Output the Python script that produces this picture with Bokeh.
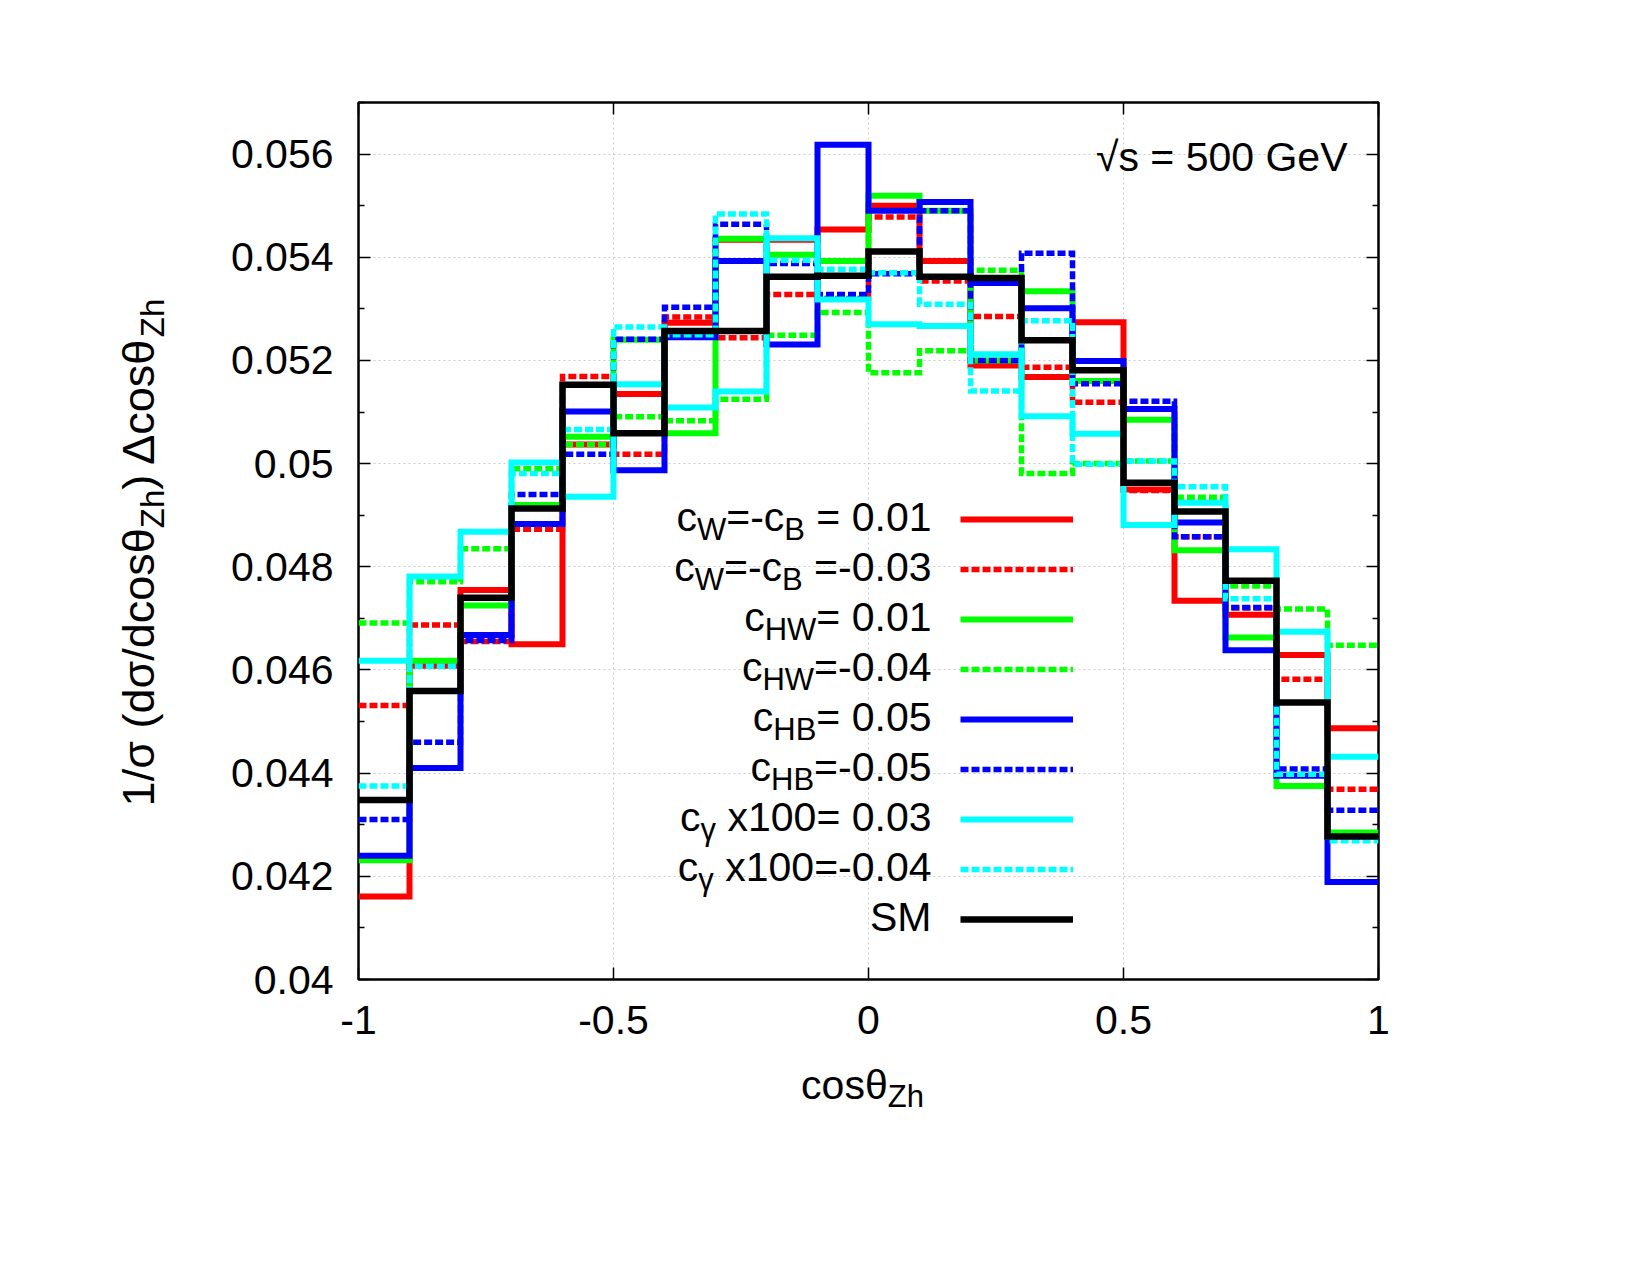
import math
from bokeh.plotting import figure
from bokeh.layouts import row, column
from bokeh.models import (Range1d, FixedTicker, LinearAxis, Label, Legend, LegendItem,
                          CustomJSTickFormatter)
from bokeh.core.properties import value
from bokeh.embed import file_html
from bokeh.resources import INLINE

# ---------------- data ----------------
bin_edges = [-1.0, -0.9, -0.8, -0.7, -0.6, -0.5, -0.4, -0.3, -0.2, -0.1, 0.0,
             0.1, 0.2, 0.3, 0.4, 0.5, 0.6, 0.7, 0.8, 0.9, 1.0]

cw_p001 = [0.04161, 0.04608, 0.04755, 0.04650, 0.05037, 0.05135, 0.05273, 0.05434, 0.05434, 0.05454,
           0.05500, 0.05393, 0.05190, 0.05168, 0.05274, 0.04950, 0.04734, 0.04707, 0.04629, 0.04487]
cw_m003 = [0.04531, 0.04687, 0.04655, 0.04873, 0.05169, 0.05018, 0.05284, 0.05244, 0.05328, 0.05320,
           0.05478, 0.05354, 0.05285, 0.05187, 0.05119, 0.04948, 0.04858, 0.04720, 0.04582, 0.04369]
chw_p001 = [0.04231, 0.04618, 0.04725, 0.04920, 0.05052, 0.05240, 0.05059, 0.05436, 0.05405, 0.05393,
            0.05519, 0.05490, 0.05200, 0.05334, 0.05160, 0.05085, 0.04832, 0.04663, 0.04375, 0.04285]
chw_m004 = [0.04691, 0.04771, 0.04835, 0.04990, 0.05037, 0.05091, 0.05083, 0.05125, 0.05249, 0.05293,
            0.05176, 0.05219, 0.05375, 0.04981, 0.05000, 0.05005, 0.04935, 0.04763, 0.04718, 0.04648]
chb_p005 = [0.04240, 0.04410, 0.04668, 0.04883, 0.05101, 0.04987, 0.05245, 0.05393, 0.05231, 0.05618,
            0.05490, 0.05507, 0.05350, 0.05301, 0.05199, 0.05106, 0.04886, 0.04638, 0.04395, 0.04189]
chb_m005 = [0.04310, 0.04460, 0.04657, 0.04940, 0.05018, 0.05241, 0.05303, 0.05464, 0.05388, 0.05328,
            0.05368, 0.05490, 0.05200, 0.05408, 0.05155, 0.05121, 0.04858, 0.04721, 0.04408, 0.04328]
cg_p003 = [0.04618, 0.04781, 0.04868, 0.05002, 0.04936, 0.05154, 0.05109, 0.05140, 0.05437, 0.05318,
           0.05270, 0.05267, 0.05212, 0.05092, 0.05058, 0.04881, 0.04924, 0.04834, 0.04674, 0.04432]
cg_m004 = [0.04375, 0.04607, 0.04740, 0.04981, 0.05066, 0.05265, 0.05250, 0.05484, 0.05394, 0.05377,
           0.05370, 0.05309, 0.05141, 0.05277, 0.04999, 0.05005, 0.04955, 0.04738, 0.04398, 0.04269]
sm = [0.04348, 0.04559, 0.04740, 0.04913, 0.05153, 0.05059, 0.05257, 0.05257, 0.05362, 0.05364,
      0.05411, 0.05362, 0.05360, 0.05239, 0.05181, 0.04963, 0.04907, 0.04773, 0.04537, 0.04277]

# legend labels: list of (text, is_subscript) pieces
legend_labels = [
    [("c", 0), ("W", 1), ("=-c", 0), ("B", 1), (" = 0.01", 0)],
    [("c", 0), ("W", 1), ("=-c", 0), ("B", 1), (" =-0.03", 0)],
    [("c", 0), ("HW", 1), ("= 0.01", 0)],
    [("c", 0), ("HW", 1), ("=-0.04", 0)],
    [("c", 0), ("HB", 1), ("= 0.05", 0)],
    [("c", 0), ("HB", 1), ("=-0.05", 0)],
    [("c", 0), ("γ", 1), (" x100= 0.03", 0)],
    [("c", 0), ("γ", 1), (" x100=-0.04", 0)],
    [("SM", 0)],
]

x_ticks = [-1.0, -0.5, 0.0, 0.5, 1.0]
x_tick_labels = ["-1", "-0.5", "0", "0.5", "1"]
y_ticks = [0.040, 0.042, 0.044, 0.046, 0.048, 0.050, 0.052, 0.054, 0.056]
y_tick_labels = ["0.04", "0.042", "0.044", "0.046", "0.048", "0.05", "0.052", "0.054", "0.056"]

xlabel_pieces = [("cosθ", 0), ("Zh", 1)]
ylabel_pieces = [("1/σ (dσ/dcosθ", 0), ("Zh", 1), (") Δcosθ", 0), ("Zh", 1)]
energy_text = "√s = 500 GeV"

# ---------------- layout constants (page pixels) ----------------
W, H = 1650, 1275
YW = 200            # width of the left strip holding the y label
MH = 1060           # height of the main figure
FL, FR, FT, FB = 358, 1378, 102, 979
X0, X1 = -1.0, 1.0
Y0, Y1 = 0.04, 0.057
FONT = "Liberation Sans"
FS = 41
SFS = 31
SUB_DROP = 12
BL_CORR = -12       # empirical baseline correction for Label rendering

p = figure(width=W - YW, height=MH, output_backend="svg", toolbar_location=None,
           x_range=Range1d(X0, X1), y_range=Range1d(Y0, Y1),
           min_border_left=FL - YW, min_border_right=W - FR,
           min_border_top=FT, min_border_bottom=MH - FB)
p.background_fill_color = "white"
p.border_fill_color = "white"
p.outline_line_color = "black"
p.outline_line_width = 2.5

xt = FixedTicker(ticks=x_ticks)
y_minor = [round((a + b) / 2, 4) for a, b in zip(y_ticks[:-1], y_ticks[1:])] + [0.057]
yt = FixedTicker(ticks=y_ticks, minor_ticks=y_minor)

fmt_code = """
const i = tvals.findIndex(t => Math.abs(t - tick) < 1e-9);
return i >= 0 ? tlabels[i] : "";
"""
xfmt = CustomJSTickFormatter(args=dict(tvals=x_ticks, tlabels=x_tick_labels), code=fmt_code)
yfmt = CustomJSTickFormatter(args=dict(tvals=y_ticks, tlabels=y_tick_labels), code=fmt_code)
blank = CustomJSTickFormatter(code="return '';")


def style_axis(ax):
    ax.axis_line_color = None
    ax.major_tick_in = 12
    ax.major_tick_out = 0
    ax.minor_tick_in = 6
    ax.minor_tick_out = 0
    ax.major_tick_line_color = "black"
    ax.minor_tick_line_color = "black"
    ax.major_tick_line_width = 1.5
    ax.minor_tick_line_width = 1.5
    ax.major_label_text_font = FONT
    ax.major_label_text_font_size = f"{FS}px"
    ax.major_label_text_color = "black"


p.xaxis.ticker = xt
p.xaxis.formatter = xfmt
p.xaxis.major_label_standoff = 26
p.yaxis.ticker = yt
p.yaxis.formatter = yfmt
p.yaxis.major_label_standoff = 25
style_axis(p.xaxis[0])
style_axis(p.yaxis[0])

top_ax = LinearAxis(ticker=FixedTicker(ticks=x_ticks), formatter=blank)
right_ax = LinearAxis(ticker=FixedTicker(ticks=y_ticks, minor_ticks=y_minor), formatter=blank)
style_axis(top_ax)
style_axis(right_ax)
p.add_layout(top_ax, "above")
p.add_layout(right_ax, "right")

for g, t in ((p.xgrid[0], xt), (p.ygrid[0], yt)):
    g.ticker = t
    g.grid_line_color = "#cccccc"
    g.grid_line_dash = "2 3"
    g.grid_line_width = 1

# ---------------- histograms ----------------
series = [
    (cw_p001, "#ff0000", "solid", 6),
    (cw_m003, "#ff0000", "8 3", 5.5),
    (chw_p001, "#00ff00", "solid", 6),
    (chw_m004, "#00ff00", "8 3", 5.5),
    (chb_p005, "#0000ff", "solid", 6),
    (chb_m005, "#0000ff", "8 3", 5.5),
    (cg_p003, "#00ffff", "solid", 6),
    (cg_m004, "#00ffff", "8 3", 5.5),
    (sm, "#000000", "solid", 6.5),
]
renderers = []
for vals, color, dash, lw in series:
    r = p.step(x=bin_edges, y=list(vals) + [vals[-1]], mode="after",
               line_color=color, line_width=lw, line_dash=dash, line_join="miter")
    renderers.append(r)

# ---------------- side strips for the axis titles ----------------
# left strip: data coordinates == page pixels
yfig = figure(width=YW, height=H, output_backend="svg", toolbar_location=None,
              x_range=Range1d(0, YW), y_range=Range1d(H, 0),
              x_axis_type=None, y_axis_type=None, min_border=0)
yfig.outline_line_color = None
# bottom strip: its frame is aligned with the main frame horizontally -> share x mapping
xfig = figure(width=W - YW, height=H - MH, output_backend="svg", toolbar_location=None,
              x_range=Range1d(X0, X1), y_range=Range1d(H, MH),
              x_axis_type=None, y_axis_type=None, min_border=0,
              min_border_left=FL - YW, min_border_right=W - FR)
xfig.outline_line_color = None

# ---------------- text helpers ----------------
ADV = {' ': 0.278, '-': 0.333, '.': 0.278, '/': 0.278, '=': 0.584, '(': 0.333, ')': 0.333,
       'B': 0.667, 'G': 0.778, 'H': 0.722, 'M': 0.833, 'S': 0.667, 'V': 0.667, 'W': 0.944,
       'Z': 0.611, 'c': 0.5, 'd': 0.556, 'e': 0.556, 'h': 0.556, 'o': 0.556, 's': 0.5,
       'x': 0.5, 'γ': 0.5, 'θ': 0.556, 'σ': 0.617, 'Δ': 0.668, '√': 0.549}


def tw(text, size):
    return sum(ADV.get(ch, 0.556) for ch in text) * size


def main_x(px):
    return X0 + (px - FL) * (X1 - X0) / (FR - FL)


def main_y(py):
    return Y0 + (FB - py) * (Y1 - Y0) / (FB - FT)


def ident(v):
    return v


def add_label(fig, fx, fy, x_px, y_px, text, size, angle=0.0, align="left"):
    fig.add_layout(Label(x=fx(x_px), y=fy(y_px), x_units="data", y_units="data",
                         text=text, text_font=FONT, text_font_size=f"{size}px",
                         text_color="black", text_align=align, text_baseline="alphabetic",
                         angle=angle))


def rich(fig, fx, fy, pieces, anchor, base, size=FS, sub_size=SFS, align="left",
         vertical=False, drop_px=SUB_DROP):
    sizes = [sub_size if s else size for _, s in pieces]
    total = sum(tw(t, sz) for (t, _), sz in zip(pieces, sizes))
    if align == "right":
        start = anchor - total
    elif align == "center":
        start = anchor - total / 2
    else:
        start = anchor
    off = 0.0
    for (t, s), sz in zip(pieces, sizes):
        stripped = t.lstrip(" ")
        lead = tw(t[:len(t) - len(stripped)], sz)
        drop = drop_px if s else 0
        if vertical:
            # text runs upward; 'start' is the bottom end (screen y grows downward)
            add_label(fig, fx, fy, base + drop, start - (off + lead), stripped, sz,
                      angle=math.pi / 2)
        else:
            add_label(fig, fx, fy, start + off + lead, base + drop + BL_CORR, stripped, sz)
        off += tw(t, sz)
    return total


# legend texts (right aligned) + legend keys
row0, row_step = 519, 50
for i, pieces in enumerate(legend_labels):
    rich(p, main_x, main_y, pieces, 931, row0 + row_step * i + 9.5, align="right")

legend = Legend(items=[LegendItem(label=value(""), renderers=[r]) for r in renderers],
                location=(960 - FL, FB - (row0 + row_step * 8 + 25)),
                orientation="vertical", glyph_width=113, glyph_height=50,
                label_height=50, label_width=0, label_standoff=0, spacing=0,
                padding=0, margin=0, border_line_color=None, background_fill_alpha=0,
                label_text_font_size="1px")
p.add_layout(legend)

# energy label
add_label(p, main_x, main_y, 1347, 168 + BL_CORR, energy_text, FS, align="right")

# x label (bottom strip)
rich(xfig, main_x, ident, xlabel_pieces, 862, 1096, align="center")

# y label (rotated, left strip), centred at y = 552
YLS, YLSS = 45, 33
ysizes = [YLSS if s else YLS for _, s in ylabel_pieces]
ytotal = sum(tw(t, sz) for (t, _), sz in zip(ylabel_pieces, ysizes))
rich(yfig, ident, ident, ylabel_pieces, 552 + ytotal / 2, 138, size=YLS, sub_size=YLSS,
     vertical=True, drop_px=14)

layout = row(yfig, column(p, xfig))
open("out.html", "w").write(file_html(layout, INLINE))
